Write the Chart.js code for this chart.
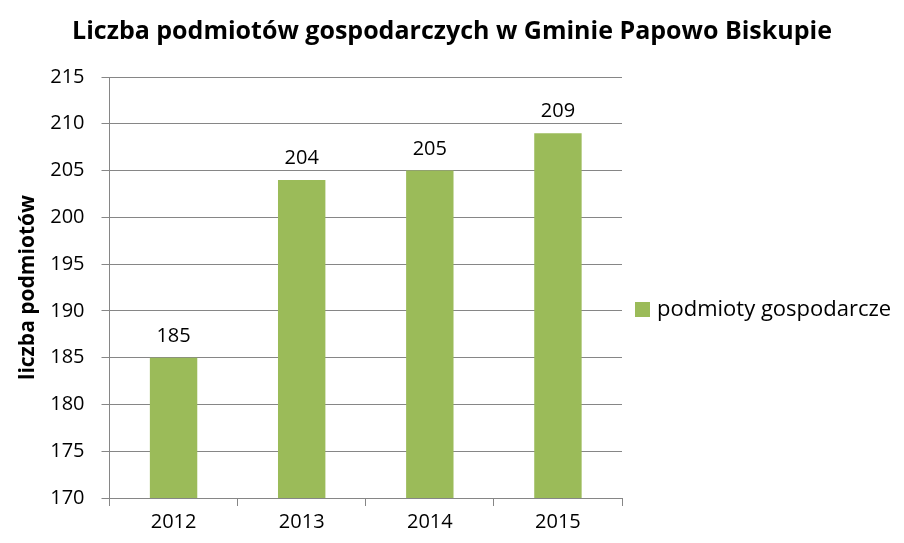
<!DOCTYPE html>
<html>
<head>
<meta charset="utf-8">
<script src="https://cdn.jsdelivr.net/npm/chart.js@4"></script>
<style>
  html, body { margin: 0; padding: 0; background: #fff; }
  #wrap { width: 904px; height: 543px; }
</style>
</head>
<body>
<div id="wrap"><canvas id="chart" width="904" height="543"></canvas></div>
<script>
const years = ['2012', '2013', '2014', '2015'];
const podmioty = [185, 204, 205, 209];
const seriesName = 'podmioty gospodarcze';

const FONT = '"Open Sans", sans-serif';
const GRID = '#868686';
const BAR = '#9BBB59';

// value labels above each bar
const valueLabels = {
    id: 'valueLabels',
    afterDatasetsDraw(chart) {
        const ctx = chart.ctx;
        const meta = chart.getDatasetMeta(0);
        ctx.save();
        ctx.fillStyle = '#000';
        ctx.font = '20px ' + FONT;
        ctx.textAlign = 'center';
        ctx.textBaseline = 'alphabetic';
        meta.data.forEach((bar, i) => {
            ctx.fillText(String(chart.data.datasets[0].data[i]), bar.x, bar.y - 16);
        });
        ctx.restore();
    }
};

// legend drawn to the right of the plot (built-in one gets squeezed)
const sideLegend = {
    id: 'sideLegend',
    afterDraw(chart) {
        const ctx = chart.ctx;
        const ds = chart.data.datasets[0];
        const x = chart.chartArea.right + 13;
        const y = (chart.chartArea.top + chart.height) / 2;
        ctx.save();
        ctx.fillStyle = ds.backgroundColor;
        ctx.fillRect(x, y - 8, 15, 15);
        ctx.fillStyle = '#000';
        ctx.font = '22px ' + FONT;
        ctx.textAlign = 'left';
        ctx.textBaseline = 'middle';
        ctx.fillText(ds.label, x + 22, y);
        ctx.restore();
    }
};

const ctx = document.getElementById('chart').getContext('2d');
new Chart(ctx, {
    type: 'bar',
    data: {
        labels: years,
        datasets: [{
            label: seriesName,
            data: podmioty,
            backgroundColor: BAR,
            borderWidth: 0,
            categoryPercentage: 1,
            barPercentage: 0.37
        }]
    },
    options: {
        responsive: false,
        animation: false,
        layout: { padding: { left: 0, right: 0, top: 0, bottom: 5 } },
        scales: {
            x: {
                grid: { display: true, drawOnChartArea: false, drawTicks: true, tickLength: 8, color: GRID, offset: true },
                border: { display: true, color: GRID },
                ticks: { color: '#000', font: { family: FONT, size: 20 }, padding: 4 }
            },
            y: {
                min: 170,
                max: 215,
                ticks: { stepSize: 5, color: '#000', font: { family: FONT, size: 20 }, padding: 17 },
                grid: { color: GRID, tickLength: 8 },
                border: { display: true, color: GRID },
                title: {
                    display: true,
                    text: 'liczba podmiotów',
                    color: '#000',
                    font: { family: FONT, size: 21, weight: 'bold' },
                    padding: { top: 15, bottom: -7 }
                }
            },
            // empty right-hand axis, only reserves room for the legend
            legendSpace: {
                type: 'linear',
                position: 'right',
                grid: { display: false },
                border: { display: false },
                ticks: { display: false },
                afterFit(scale) { scale.width = 282; }
            }
        },
        plugins: {
            title: {
                display: true,
                text: 'Liczba podmiotów gospodarczych w Gminie Papowo Biskupie',
                color: '#000',
                font: { family: FONT, size: 25, weight: 'bold' },
                padding: { top: 17, bottom: 30 }
            },
            legend: { display: false },
            tooltip: { enabled: false }
        }
    },
    plugins: [valueLabels, sideLegend]
});
</script>
</body>
</html>
